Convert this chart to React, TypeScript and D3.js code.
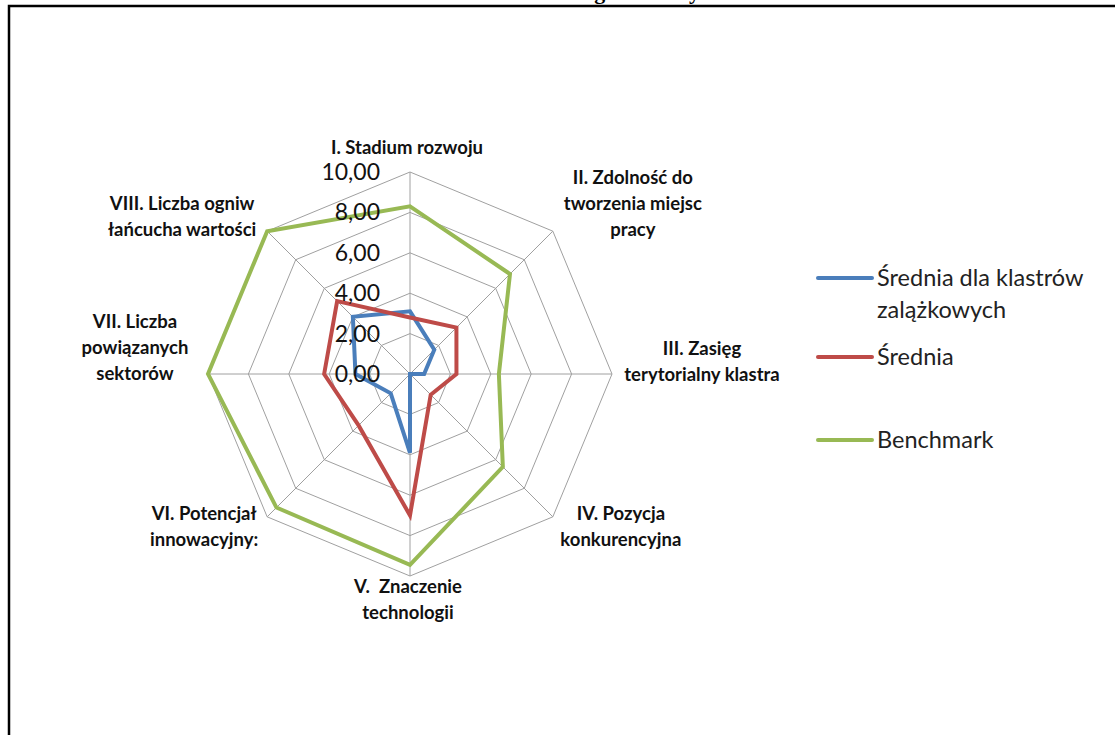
import React from "react";
import * as d3 from "d3";

const categories: string[][] = [
  ["I. Stadium rozwoju"],
  ["II. Zdolność do", "tworzenia miejsc", "pracy"],
  ["III. Zasięg", "terytorialny klastra"],
  ["IV. Pozycja", "konkurencyjna"],
  ["V.  Znaczenie", "technologii"],
  ["VI. Potencjał", "innowacyjny:"],
  ["VII. Liczba", "powiązanych", "sektorów"],
  ["VIII. Liczba ogniw", "łańcucha wartości"],
];

const seriesNames = ["Średnia dla klastrów zalążkowych", "Średnia", "Benchmark"];
const seedValues = [3.1, 1.7, 0.7, 0.0, 3.9, 1.35, 2.7, 4.0];
const avgValues = [2.8, 3.25, 2.3, 1.45, 7.0, 3.6, 4.25, 5.1];
const benchValues = [8.3, 7.0, 4.4, 6.5, 9.45, 9.35, 10.0, 10.0];
const seriesColors = ["#4A7EBB", "#BE4B48", "#98B954"];
const ticks = [0, 2, 4, 6, 8, 10];
const tickLabels = ["0,00", "2,00", "4,00", "6,00", "8,00", "10,00"];
const titleText = "Profil klastrów – kategorie cechy";

// label placement (offset from axis end), layout only
const labelPos: { dx: number; dy: number }[] = [
  { dx: -3, dy: -24 },
  { dx: 80, dy: -28 },
  { dx: 90, dy: -12 },
  { dx: 68, dy: 10 },
  { dx: -2, dy: 24 },
  { dx: -63, dy: 10 },
  { dx: -73, dy: -26 },
  { dx: -85, dy: -15 },
];

export default function App() {
  const W = 1115, H = 735;
  const cx = 410, cy = 374;
  const r = d3.scaleLinear().domain([0, 10]).range([0, 202]);
  const n = categories.length;
  const angle = d3.scaleLinear().domain([0, n]).range([0, 2 * Math.PI]);
  const pt = (i: number, v: number): [number, number] => {
    const a = angle(i);
    return [cx + r(v) * Math.sin(a), cy - r(v) * Math.cos(a)];
  };
  const radial = d3
    .lineRadial<number>()
    .angle((_, i) => angle(i))
    .radius((v) => r(v))
    .curve(d3.curveLinearClosed);

  const allSeries = [seedValues, avgValues, benchValues];
  const legendY = [278, 357, 440];
  const lineH = 26;

  return (
    <svg width={W} height={H} style={{ position: "absolute", left: 0, top: 0, display: "block", background: "#fff" }}>
      <text x={700} y={-1} textAnchor="end" fontFamily="Liberation Serif" fontWeight={700} fontSize={22} fill="#000">
        {titleText}
      </text>
      <rect x={9} y={6} width={1200} height={800} fill="none" stroke="#000" strokeWidth={2.5} />
      <g transform={`translate(${cx},${cy})`}>
        {ticks.slice(1).map((t) => (
          <path
            key={t}
            d={radial(categories.map(() => t)) || ""}
            fill="none"
            stroke="#a0a0a0"
            strokeWidth={1}
          />
        ))}
      </g>
      {categories.map((_, i) => {
        const [x2, y2] = pt(i, 10);
        return <line key={i} x1={cx} y1={cy} x2={x2} y2={y2} stroke="#a0a0a0" strokeWidth={1} />;
      })}
      <g transform={`translate(${cx},${cy})`}>
        {allSeries.map((vals, s) => (
          <path
            key={s}
            d={radial(vals) || ""}
            fill="none"
            stroke={seriesColors[s]}
            strokeWidth={4}
            strokeLinejoin="miter"
          />
        ))}
      </g>
      {ticks.map((t, k) => (
        <text
          key={t}
          x={cx - 30}
          y={cy - r(t)}
          dy="0.35em"
          textAnchor="end"
          fontFamily="Lato"
          fontSize={23}
          fill="#111"
        >
          {tickLabels[k]}
        </text>
      ))}
      {categories.map((lines, i) => {
        const [x, y] = pt(i, 10);
        const p = labelPos[i];
        const startY = y + p.dy - ((lines.length - 1) * lineH) / 2;
        return (
          <text
            key={i}
            x={x + p.dx}
            y={startY}
            textAnchor="middle"
            fontFamily="Lato"
            fontWeight={700}
            fontSize={18.5}
            fill="#111"
            style={{ whiteSpace: "pre" }}
          >
            {lines.map((l, j) => (
              <tspan key={j} x={x + p.dx} y={startY + j * lineH} dy="0.35em">
                {l}
              </tspan>
            ))}
          </text>
        );
      })}
      {seriesNames.map((name, s) => {
        const words = s === 0 ? ["Średnia dla klastrów", "zalążkowych"] : [name];
        return (
          <g key={s}>
            <line x1={818} x2={872} y1={legendY[s]} y2={legendY[s]} stroke={seriesColors[s]} strokeWidth={4} strokeLinecap="round" />
            <text x={877} y={legendY[s]} fontFamily="Lato" fontSize={23.5} fill="#222">
              {words.map((w, j) => (
                <tspan key={j} x={877} y={legendY[s] + j * 32} dy="0.35em">
                  {w}
                </tspan>
              ))}
            </text>
          </g>
        );
      })}
    </svg>
  );
}
